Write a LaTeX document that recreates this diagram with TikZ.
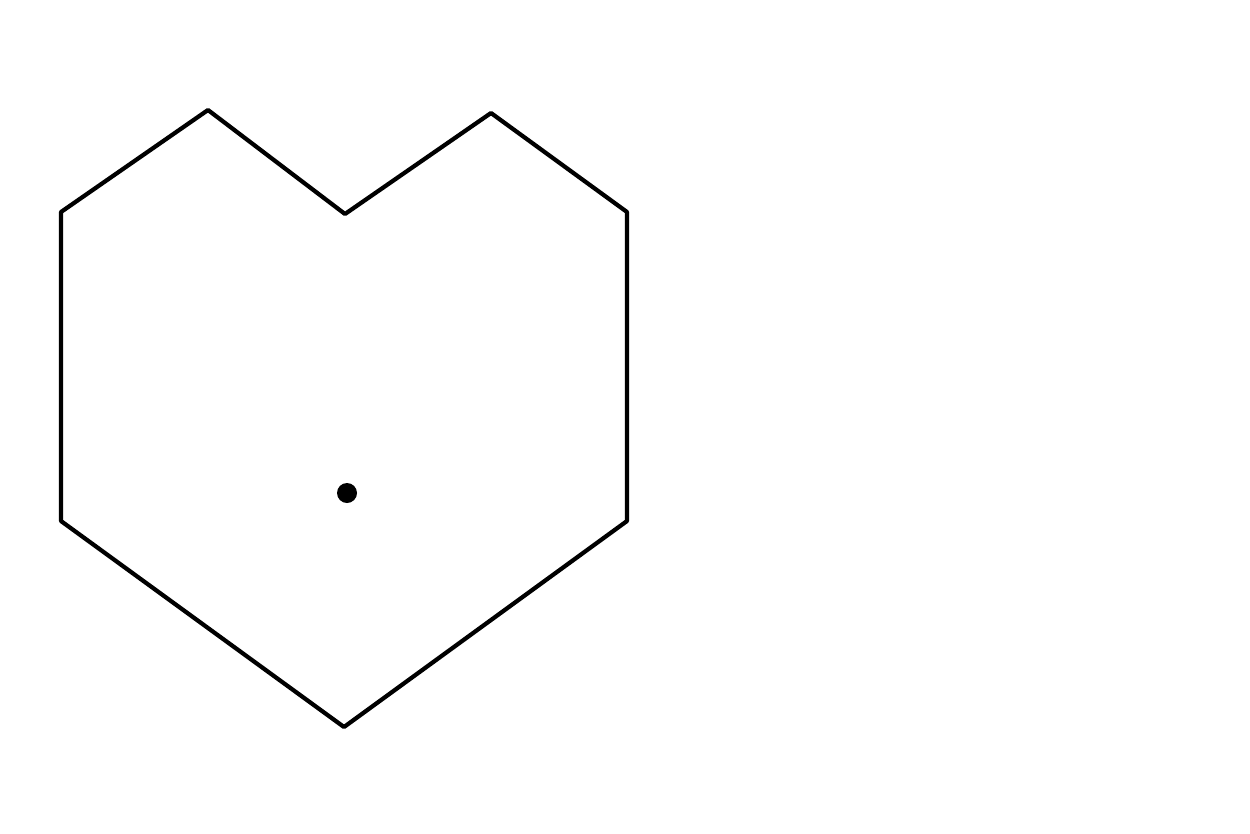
\documentclass[tikz,border=0pt]{standalone}
\usepackage{tikz}
\usetikzlibrary{calc}

\begin{document}
\begin{tikzpicture}[x=0.02cm,y=-0.02cm,line width=2.4pt,line join=round]
\useasboundingbox (0,0) rectangle (1250,833);
% outline of the heart-shaped hexagon
\foreach \n/\x/\y in {a/61/212,b/208/110,c/345/214,d/491/113,e/627/212,f/627/521,g/344/727,h/61/521}
 \coordinate (\n) at (\x,\y);
\draw (a) -- (b) -- (c) -- (d) -- (e) -- (f) -- (g) -- (h) -- cycle;
% centre point
\fill (347,493) circle (10);
\end{tikzpicture}
\end{document}
